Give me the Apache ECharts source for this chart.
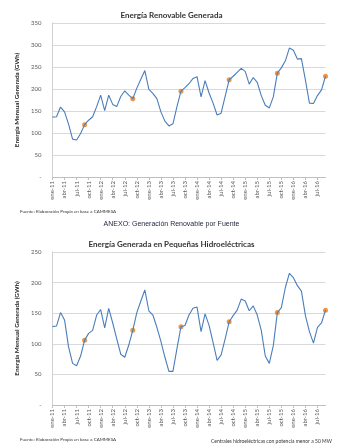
<!DOCTYPE html>
<html><head><meta charset="utf-8">
<script src="https://cdn.jsdelivr.net/npm/echarts@6/dist/echarts.min.js"></script>
<style>html,body{margin:0;padding:0;background:#fff}#c{width:343px;height:446px}</style>
</head><body><div id="c"></div>
<script>
const monthNames = ['ene','feb','mar','abr','may','jun','jul','ago','sep','oct','nov','dic'];
const years = ['11','12','13','14','15','16'];
const categories = [];
years.forEach(y => monthNames.forEach(m => { if (categories.length < 69) categories.push(m + '-' + y); }));

const renovable = [136,137,159,148,120,86,84,99,119,129,137,160,186,151,186,165,160,183,196,186,178,202,222,242,199,190,178,148,127,116,121,160,195,203,212,224,228,182,219,191,168,141,145,183,221,229,238,247,240,211,226,215,185,163,157,182,236,248,264,293,288,268,269,220,168,167,185,198,229];
const hidro = [128,129,151,139,95,68,64,80,106,117,122,147,156,126,158,134,108,83,78,98,122,151,170,188,154,147,127,104,78,55,55,92,128,130,147,158,160,120,149,130,102,73,82,108,136,146,155,173,170,154,162,147,122,80,68,97,151,159,192,215,208,195,186,146,120,101,127,134,155];
const sepCats = ['sep-11','sep-12','sep-13','sep-14','sep-15','sep-16'];
const renovableSep = [119,178,195,221,236,229];
const hidroSep = [106,122,128,136,151,155];

const title1 = 'Energía Renovable Generada';
const title2 = 'Energía Generada en Pequeñas Hidroeléctricas';
const anexo = 'ANEXO: Generación Renovable por Fuente';
const yName = 'Energía Mensual Generada (GWh)';
const fuente = 'Fuente: Elaboración Propia en base a CAMMESA';
const nota = 'Centrales hidroeléctricas con potencia menor a 50 MW';

const FONT = 'Lato, "Open Sans", sans-serif';
const chart = echarts.init(document.getElementById('c'), null, {renderer: 'canvas'});

function xAx(gi) {
  return {
    type: 'category', gridIndex: gi, data: categories, boundaryGap: false,
    axisLine: {lineStyle: {color: '#bfbfbf', width: 1}},
    axisTick: {show: true, interval: 2, length: 3, lineStyle: {color: '#bfbfbf'}},
    axisLabel: {interval: 2, rotate: 90, fontSize: 6, color: '#595959', fontFamily: FONT, margin: 4},
    splitLine: {show: false}
  };
}
function yAx(gi, max) {
  return {
    type: 'value', gridIndex: gi, min: 0, max: max, interval: 50,
    name: yName, nameLocation: 'middle', nameGap: 25, nameRotate: 90,
    nameTextStyle: {fontSize: 6.3, fontWeight: 'bold', color: '#222', fontFamily: FONT},
    axisLine: {show: true, lineStyle: {color: '#d0d0d0'}},
    axisTick: {show: false},
    axisLabel: {fontSize: 6, color: '#595959', fontFamily: FONT, margin: 11,
      formatter: v => v === 0 ? '-' : String(v)},
    splitLine: {lineStyle: {color: '#d9d9d9', width: 1}}
  };
}

chart.setOption({
  animation: false,
  backgroundColor: '#fff',
  title: [
    {text: title1, left: 'center', top: 6, textStyle: {fontSize: 8, fontWeight: 'bold', color: '#333', fontFamily: FONT}},
    {text: anexo, left: 'center', top: 216, textStyle: {fontSize: 7, fontWeight: 'normal', color: '#1c2340', fontFamily: '"Liberation Sans", Arial, sans-serif'}},
    {text: title2, left: 'center', top: 235, textStyle: {fontSize: 8, fontWeight: 'bold', color: '#333', fontFamily: FONT}},
    {text: fuente, left: 15, top: 204, textStyle: {fontSize: 4.5, fontWeight: 'normal', color: '#333', fontFamily: FONT}},
    {text: fuente, left: 15, top: 432, textStyle: {fontSize: 4.5, fontWeight: 'normal', color: '#333', fontFamily: FONT}},
    {text: nota, left: 206, top: 434, textStyle: {fontSize: 5, fontWeight: 'normal', color: '#333', fontFamily: FONT}}
  ],
  grid: [
    {left: 52.5, top: 23, width: 273, height: 154},
    {left: 52.5, top: 252, width: 273, height: 153}
  ],
  xAxis: [xAx(0), xAx(1)],
  yAxis: [yAx(0, 350), yAx(1, 250)],
  series: [
    {type: 'line', xAxisIndex: 0, yAxisIndex: 0, data: renovable, showSymbol: false, smooth: false,
      lineStyle: {color: '#4a7ebb', width: 1.1}},
    {type: 'scatter', xAxisIndex: 0, yAxisIndex: 0, data: sepCats.map((c, i) => [c, renovableSep[i]]),
      symbolSize: 5, itemStyle: {color: '#ee7a12'}},
    {type: 'line', xAxisIndex: 1, yAxisIndex: 1, data: hidro, showSymbol: false, smooth: false,
      lineStyle: {color: '#4a7ebb', width: 1.1}},
    {type: 'scatter', xAxisIndex: 1, yAxisIndex: 1, data: sepCats.map((c, i) => [c, hidroSep[i]]),
      symbolSize: 5, itemStyle: {color: '#ee7a12'}}
  ]
});
</script></body></html>
